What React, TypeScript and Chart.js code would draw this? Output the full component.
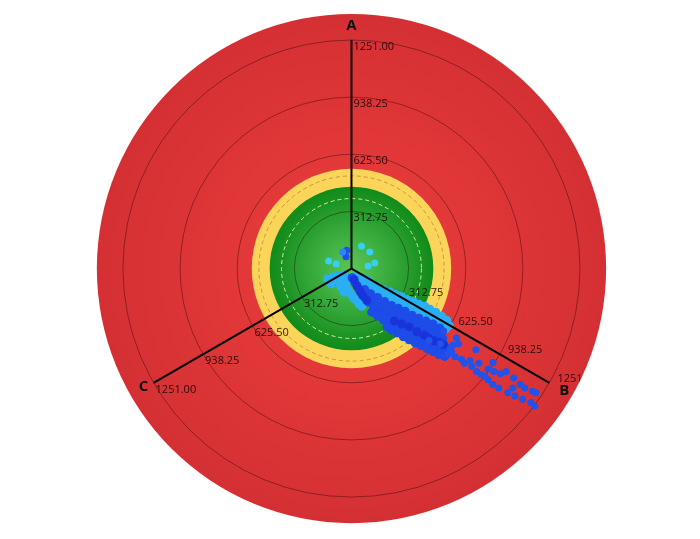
import { useEffect, useRef } from 'react';
import { Chart, registerables } from 'chart.js';

Chart.register(...registerables);

// Axes of the three-phase polar diagram
const axisNames = ['A', 'B', 'C'];
const axisAngles = [-90, 30, 150]; // canvas degrees (A up, B lower-right, C lower-left)
const tickValues = [312.75, 625.5, 938.25, 1251];
const tickLabels = ['312.75', '625.50', '938.25', '1251.00'];
const scaleMax = 1251;

// Zones (same units as axes)
const redZone = 1394;
const yellowZone = 546;
const greenZone = 448;
const greenDashed = 383;
const yellowDashed = 507;

// Scatter values [x, y] in axis units
const cyanPoints = [
  [55, 123], [100, 91], [-125, 42], [-84, 26], [91, 14], [127, 31],
];
const centerBluePoints = [[-26, 100], [-30, 64]];
const centerMidPoints = [[-48, 91]];

const lightBluePoints = [
  [-132, -57], [-105, -46], [-73, -41], [-41, -35], [-111, -84], [-78, -68], [-46, -62], [-14, -51],
  [-57, -100], [-24, -116], [3, -149], [30, -176], [57, -208], [46, -78], [78, -84], [111, -89],
  [143, -100], [176, -116], [208, -127], [240, -143], [273, -154], [305, -170], [338, -181], [370, -197],
  [402, -208], [429, -224], [462, -240], [494, -262], [521, -284], [84, -116], [122, -132], [159, -149],
  [197, -165], [235, -181], [273, -197], [311, -213], [348, -230], [386, -246], [424, -267], [456, -289],
  [489, -311], [516, -332],
  [24, -41], [57, -51], [89, -62], [-92, -57], [-62, -84], [-30, -84], [-41, -130], [-8, -135],
  [14, -165], [41, -195], [62, -170], [100, -100], [130, -116], [165, -130], [195, -143], [225, -157],
  [257, -170], [290, -184], [322, -197], [354, -213], [386, -227], [418, -240], [448, -257], [478, -273],
  [505, -298], [535, -313],
];

const bluePoints = [
  [3, -51], [19, -78], [35, -105], [51, -132], [73, -159], [95, -186], [122, -213], [149, -235],
  [181, -251], [213, -262], [246, -273], [278, -284], [311, -294], [343, -311], [375, -321], [408, -338],
  [440, -354], [473, -370], [500, -386],
  [111, -240], [143, -262], [176, -284], [208, -300], [240, -316], [273, -332], [305, -348], [338, -365],
  [370, -381], [402, -397], [435, -413], [467, -429], [500, -446],
  [219, -338], [251, -354], [284, -375], [316, -392], [348, -408], [381, -424], [413, -440], [446, -456],
  [478, -473], [510, -483],
  [73, -116], [105, -138], [143, -159], [181, -181], [219, -203], [257, -219], [294, -235], [332, -257],
  [370, -273], [408, -289], [446, -305], [483, -327],
  [100, -165], [130, -190], [160, -205], [195, -225], [230, -243], [262, -255], [297, -265], [330, -280],
  [362, -297], [395, -313], [428, -330], [460, -343], [492, -360],
  [195, -320], [227, -300], [260, -318], [292, -330], [325, -345], [357, -362], [390, -378], [422, -392],
  [455, -408], [487, -420], [520, -438],
];

const deepBluePoints = [
  [14, -62], [30, -95], [46, -122], [62, -149], [84, -176], [235, -289], [316, -321], [359, -348],
  [397, -365], [451, -397], [505, -419], [275, -305], [420, -380], [480, -405],
];

const outerPoints = [
  [505, -343], [575, -381], [681, -446], [487, -413], [548, -456], [568, -485], [602, -498], [649, -507],
  [698, -521], [775, -516], [748, -552], [780, -566], [816, -579], [847, -566], [658, -539], [685, -566],
  [712, -584], [748, -611], [775, -638], [806, -656], [888, -602], [924, -638], [949, -656], [991, -674],
  [1009, -683], [856, -683], [895, -701], [937, -719], [982, -737], [1003, -755], [883, -656], [730, -593],
  [424, -395], [541, -440], [618, -521], [586, -413], [530, -470], [555, -420],
];

const toXY = (arr: number[][]) => arr.map(([x, y]) => ({ x, y }));

const polarPlugin = {
  id: 'polarBackground',
  beforeDatasetsDraw(chart: any) {
    const { ctx } = chart;
    const xs = chart.scales.x;
    const ys = chart.scales.y;
    const cx = xs.getPixelForValue(0);
    const cy = ys.getPixelForValue(0);
    const R = (v: number) => xs.getPixelForValue(v) - cx;
    ctx.save();
    // red disk
    let g = ctx.createRadialGradient(cx, cy, 0, cx, cy, R(redZone));
    g.addColorStop(0, 'rgb(238,62,60)');
    g.addColorStop(1, 'rgb(212,48,52)');
    ctx.fillStyle = g;
    ctx.beginPath();
    ctx.arc(cx, cy, R(redZone), 0, Math.PI * 2);
    ctx.fill();
    // yellow ring
    ctx.fillStyle = '#fbd45a';
    ctx.beginPath();
    ctx.arc(cx, cy, R(yellowZone), 0, Math.PI * 2);
    ctx.fill();
    // green disk
    g = ctx.createRadialGradient(cx, cy, 0, cx, cy, R(greenZone));
    g.addColorStop(0, '#5cc658');
    g.addColorStop(0.6, '#2ea334');
    g.addColorStop(1, '#108a18');
    ctx.fillStyle = g;
    ctx.beginPath();
    ctx.arc(cx, cy, R(greenZone), 0, Math.PI * 2);
    ctx.fill();
    // dashed zone limits
    ctx.setLineDash([4, 3]);
    ctx.lineWidth = 1;
    ctx.strokeStyle = '#d4ea9c';
    ctx.beginPath();
    ctx.arc(cx, cy, R(greenDashed), 0, Math.PI * 2);
    ctx.stroke();
    ctx.strokeStyle = '#cf9638';
    ctx.beginPath();
    ctx.arc(cx, cy, R(yellowDashed), 0, Math.PI * 2);
    ctx.stroke();
    ctx.setLineDash([]);
    // grid circles
    ctx.strokeStyle = 'rgba(40,0,0,0.4)';
    ctx.lineWidth = 1;
    tickValues.forEach((v) => {
      ctx.beginPath();
      ctx.arc(cx, cy, R(v), 0, Math.PI * 2);
      ctx.stroke();
    });
    ctx.restore();
  },
  afterDatasetsDraw(chart: any) {
    const { ctx } = chart;
    const xs = chart.scales.x;
    const ys = chart.scales.y;
    const cx = xs.getPixelForValue(0);
    const cy = ys.getPixelForValue(0);
    const R = (v: number) => xs.getPixelForValue(v) - cx;
    const labelOffsets = [[2, 6.5], [8, -4], [2, 7]];
    const nameOffsets = [[0, -14], [15, 8], [-10, 4]];
    ctx.save();
    ctx.beginPath();
    ctx.arc(cx, cy, R(redZone), 0, Math.PI * 2);
    ctx.clip();
    axisAngles.forEach((deg, i) => {
      const a = (deg * Math.PI) / 180;
      const ex = cx + Math.cos(a) * R(scaleMax);
      const ey = cy + Math.sin(a) * R(scaleMax);
      ctx.strokeStyle = '#000';
      ctx.lineWidth = 2;
      ctx.beginPath();
      ctx.moveTo(cx, cy);
      ctx.lineTo(ex, ey);
      ctx.stroke();
      ctx.fillStyle = 'rgba(25,5,5,0.9)';
      ctx.font = '11px "Open Sans"';
      ctx.textAlign = 'left';
      ctx.textBaseline = 'middle';
      tickValues.forEach((v, k) => {
        const tx = cx + Math.cos(a) * R(v);
        const ty = cy + Math.sin(a) * R(v);
        ctx.fillText(tickLabels[k], tx + labelOffsets[i][0], ty + labelOffsets[i][1]);
      });
      ctx.fillStyle = '#111';
      ctx.font = 'bold 15px "Open Sans"';
      ctx.textAlign = 'center';
      ctx.fillText(axisNames[i], ex + nameOffsets[i][0], ey + nameOffsets[i][1]);
    });
    ctx.restore();
  },
};

export default function App() {
  const ref = useRef<HTMLCanvasElement>(null);
  useEffect(() => {
    if (!ref.current) return;
    const pt = (data: number[][], color: string, r: number) => ({
      data: toXY(data),
      backgroundColor: color,
      borderWidth: 0,
      pointRadius: r,
      pointHoverRadius: r,
    });
    const chart = new Chart(ref.current, {
      type: 'scatter',
      data: {
        datasets: [
          pt(cyanPoints, '#35d0f2', 3.5),
          pt(centerMidPoints, '#2b86f0', 3.5),
          pt(centerBluePoints, '#1f4fe6', 3.5),
          pt(outerPoints, '#2052ec', 3.5),
          pt(deepBluePoints, '#1a34dc', 4.5),
          pt(bluePoints, '#1d4ce8', 4.5),
          pt(lightBluePoints, '#2aaef4', 4.5),
        ],
      },
      options: {
        animation: false,
        responsive: false,
        layout: { padding: 0 },
        plugins: { legend: { display: false }, tooltip: { enabled: false } },
        scales: {
          x: { type: 'linear', display: false, min: -1899.5, max: 1883.3 },
          y: { type: 'linear', display: false, min: -1461.8, max: 1451 },
        },
      },
      plugins: [polarPlugin],
    });
    return () => chart.destroy();
  }, []);
  return (
    <canvas
      ref={ref}
      width={700}
      height={539}
      style={{ position: 'absolute', left: 0, top: 0, width: 700, height: 539 }}
    />
  );
}
